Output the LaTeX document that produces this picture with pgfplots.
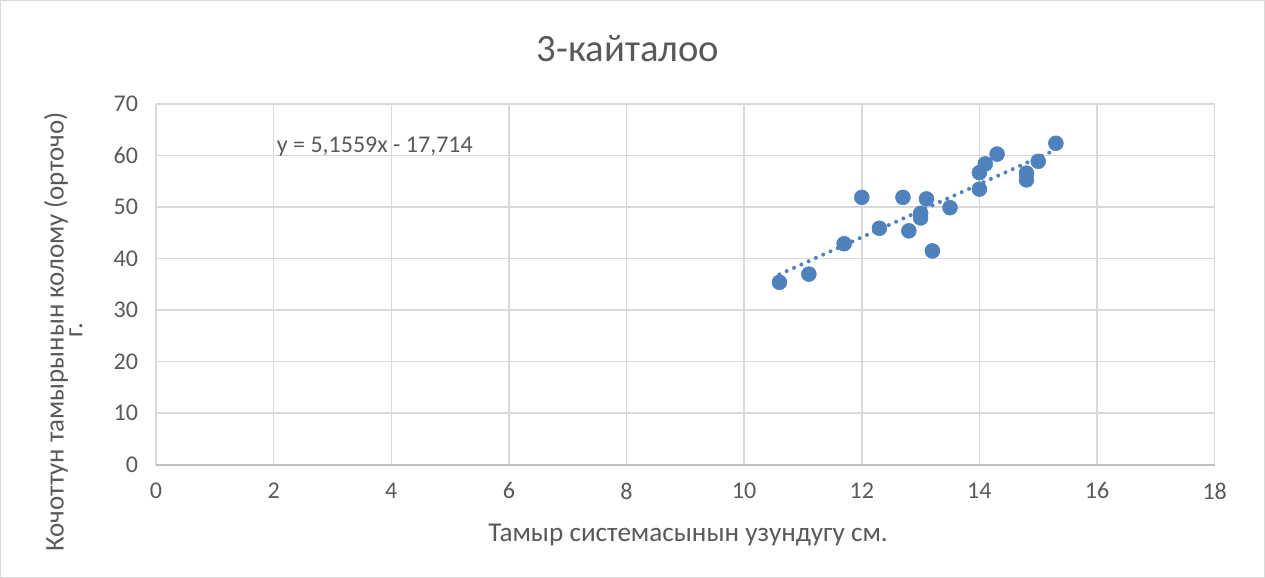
\documentclass[border=0pt]{standalone}
\usepackage{fontspec}
\setmainfont{Carlito}
\usepackage{pgfplots}
\pgfplotsset{compat=1.18}
\definecolor{txt}{HTML}{595959}
\definecolor{grd}{HTML}{D9D9D9}
\definecolor{axl}{HTML}{BFBFBF}
\definecolor{ser}{HTML}{4F81BD}
\begin{document}
\begin{tikzpicture}[x=0.75pt,y=0.75pt]
\path[use as bounding box] (0,0) rectangle (1265,578);
\draw[grd, line width=0.75pt] (0.5,0.5) rectangle (1264.5,577.5);
\node[txt, font=\fontsize{29}{34}\selectfont] at (628,578-49) {3-кайталоо};
\node[txt, font=\fontsize{20.2}{24}\selectfont, rotate=90] at (56,578-332) {Кочоттун тамырынын колому (орточо)};
\node[txt, font=\fontsize{20.2}{24}\selectfont, rotate=90] at (76,578-330) {г.};
\node[txt, font=\fontsize{20.4}{24}\selectfont] at (688,578-535) {Тамыр системасынын узундугу см.};
\begin{axis}[
  at={(117pt,85pt)}, anchor=south west,
  scale only axis, width=794pt, height=270.4pt,
  xmin=0, xmax=18, ymin=0, ymax=70,
  xtick={0,2,...,18}, ytick={0,10,...,70},
  grid=major, major grid style={grd, line width=1.1pt},
  axis line style={draw=none},
  tick style={draw=none},
  ticklabel style={txt, font=\fontsize{18}{22}\selectfont},
  /pgf/number format/assume math mode=true,
  yticklabel style={xshift=-10pt},
  xticklabel style={yshift=-10pt},
  clip=false,
]
\draw[axl, line width=1.5pt] (axis cs:0,0) -- (axis cs:18,0);
\addplot[only marks, mark=*, mark size=5.6pt, mark options={fill=ser, draw=ser}] coordinates {
(10.6,35.4) (11.1,37.0) (11.7,42.9) (12.0,51.9) (12.3,45.9) (12.7,51.9)
(12.8,45.4) (13.0,48.8) (13.0,47.9) (13.1,51.6) (13.2,41.5) (13.5,49.9)
(14.0,53.5) (14.0,56.7) (14.1,58.4) (14.3,60.3) (14.8,56.6) (14.8,55.3)
(15.0,58.9) (15.3,62.4)
};
\addplot[ser, line width=3pt, line cap=round, dash pattern=on 0pt off 6pt] coordinates {(10.6,36.94) (15.3,61.17)};
\node[anchor=west, txt, font=\fontsize{18}{22}\selectfont, inner sep=0pt] at (axis cs:2.05,61.7) {y = 5,1559x - 17,714};
\end{axis}
\end{tikzpicture}
\end{document}
